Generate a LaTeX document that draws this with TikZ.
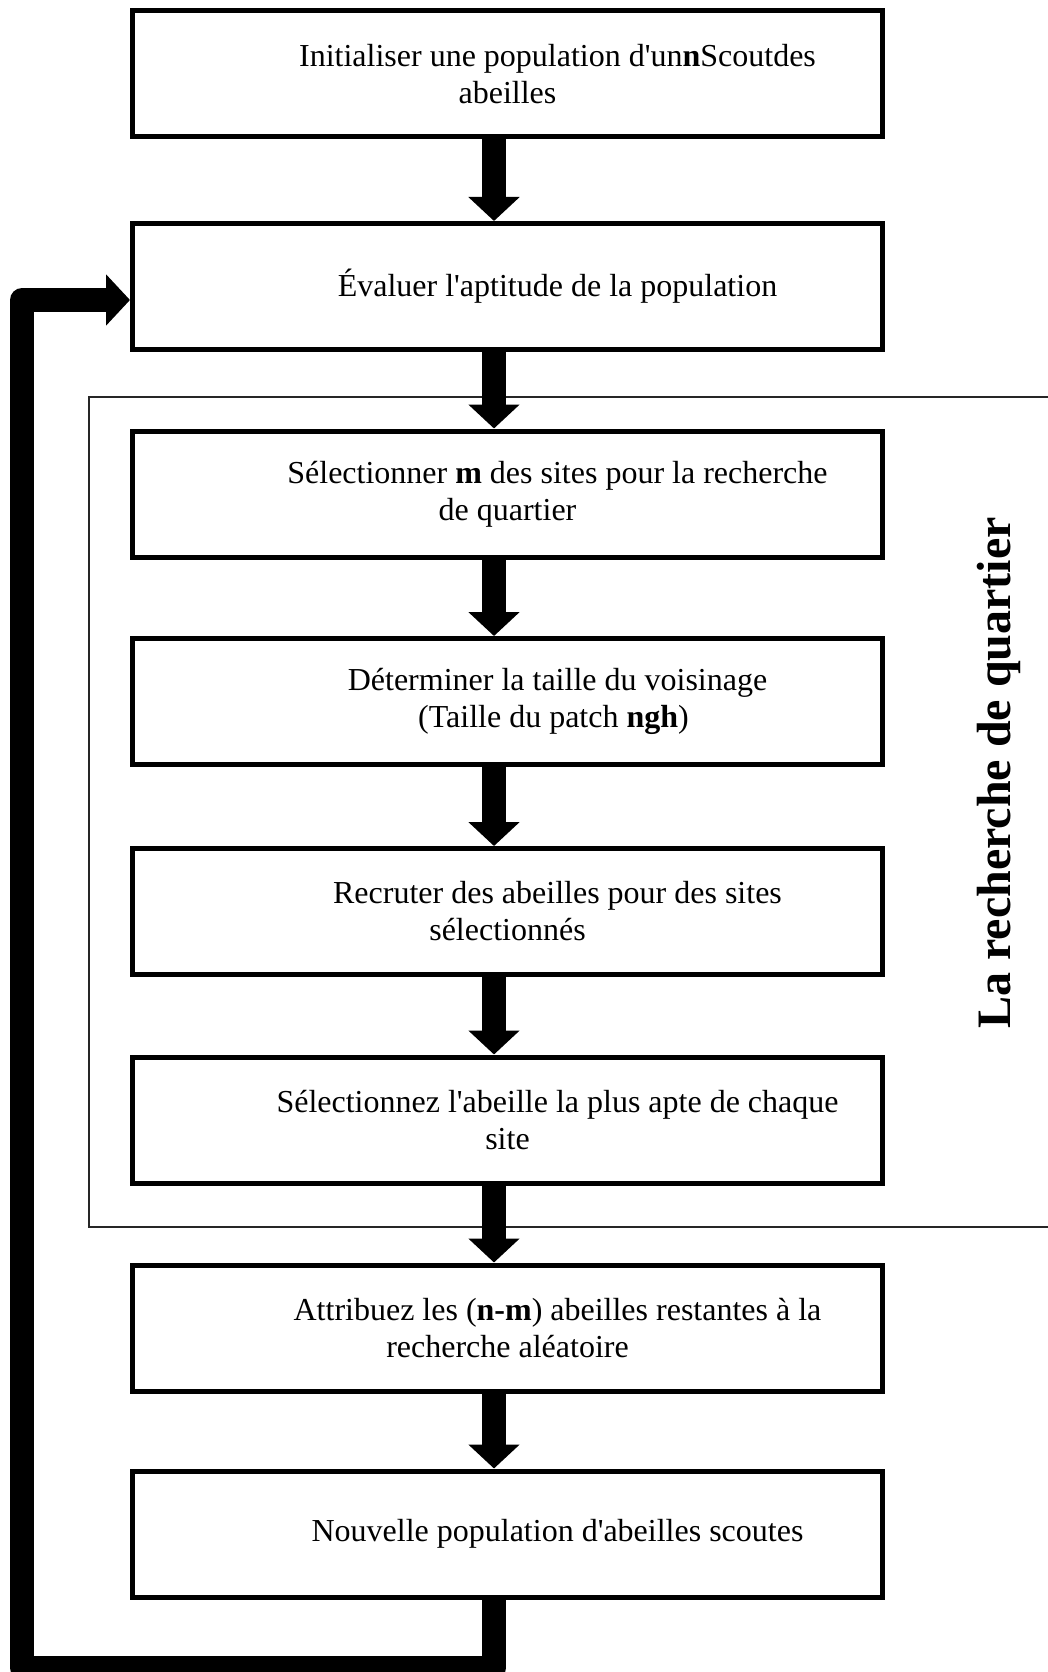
\documentclass[tikz,border=0pt]{standalone}
\usepackage{fontspec}
\setmainfont{Liberation Serif}[Ligatures=TeXOff]
\usetikzlibrary{arrows.meta}
\begin{document}
\begin{tikzpicture}[x=1pt,y=-1pt,
  box/.style={draw, line width=5pt, minimum width=750pt, minimum height=126pt,
    inner sep=0pt, align=center, font=\fontsize{32}{37}\selectfont},
  flow/.style={line width=24pt, -{Triangle[length=24pt 0, width=50pt 0]}},
  grp/.style={line width=1.6pt, draw=black!85},
  side/.style={font=\fontsize{48}{55}\selectfont\bfseries, rotate=90, inner sep=0pt}]
\useasboundingbox (0,0) rectangle (1047,1672);
\fill[white] (0,0) rectangle (1047,1672);
% group frame (open on the right)
\draw[grp] (1060,397) -- (89,397) -- (89,1227) -- (1060,1227);
% boxes
\node[box] (b1) at (507.5,74) {\hspace*{100pt}Initialiser une population d'un\textbf{n}Scoutdes\\abeilles};
\node[box] (b2) at (507.5,286.5) {\hspace*{100pt}Évaluer l'aptitude de la population};
\node[box] (b3) at (507.5,494) {\hspace*{100pt}Sélectionner \textbf{m} des sites pour la recherche\\de quartier};
\node[box] (b4) at (507.5,701.5) {\hspace*{100pt}Déterminer la taille du voisinage\\\hspace*{92pt}(Taille du patch \textbf{ngh})};
\node[box] (b5) at (507.5,911.5) {\hspace*{100pt}Recruter des abeilles pour des sites\\sélectionnés};
\node[box] (b6) at (507.5,1120) {\hspace*{100pt}Sélectionnez l'abeille la plus apte de chaque\\site};
\node[box] (b7) at (507.5,1328) {\hspace*{100pt}Attribuez les (\textbf{n-m}) abeilles restantes à la\\recherche aléatoire};
\node[box] (b8) at (507.5,1534) {\hspace*{100pt}Nouvelle population d'abeilles scoutes};
% side label
\node[side] (lab) at (999,773) {La recherche de quartier};
% arrows
\foreach \a/\b in {b1/b2,b2/b3,b3/b4,b4/b5,b5/b6,b6/b7,b7/b8}
  \draw[flow] ([xshift=-13.5pt]\a.south) -- ([xshift=-13.5pt]\b.north);
% feedback loop
\coordinate (lb) at (22,1668);
\coordinate (lt) at (22,300);
\draw[flow, line join=round] ([xshift=-13.5pt]b8.south) -- ([xshift=-13.5pt]b8.south |- lb) -- (lb) -- (lt) -- (b2.west |- lt);
\end{tikzpicture}
\end{document}
